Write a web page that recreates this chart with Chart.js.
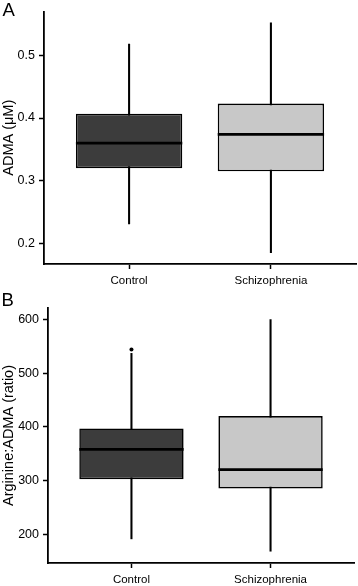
<!DOCTYPE html>
<html>
<head>
<meta charset="utf-8">
<script src="https://cdn.jsdelivr.net/npm/chart.js@4/dist/chart.umd.min.js"></script>
<style>
  body { margin: 0; background: #fff; width: 358px; height: 586px; position: relative; overflow: hidden;
         font-family: "Liberation Sans", Arial, sans-serif; }
  .panel { position: absolute; left: 0; }
  .tag { position: absolute; font-size: 18.5px; line-height: 1; color: #000; }
  canvas { display: block; }
</style>
</head>
<body>
<div class="panel" style="top:0"><canvas id="chartA" width="358" height="290"></canvas></div>
<div class="tag" style="top:1px;left:2.5px">A</div>
<div class="panel" style="top:290px"><canvas id="chartB" width="358" height="296"></canvas></div>
<div class="tag" style="top:291px;left:1.5px">B</div>

<script>
const categories = ['Control', 'Schizophrenia'];
const fills = ['#3c3c3c', '#c8c8c8'];

// panel A - ADMA (µM)
const admaMin = [0.231, 0.185];
const admaQ1 = [0.320, 0.315];
const admaMedian = [0.360, 0.374];
const admaQ3 = [0.407, 0.423];
const admaMax = [0.518, 0.552];
const admaOutliers = [[], []];
const admaTicks = [0.2, 0.3, 0.4, 0.5];

// panel B - Arginine:ADMA ratio
const ratioMin = [191, 168];
const ratioQ1 = [302, 285];
const ratioMedian = [358, 320];
const ratioQ3 = [397, 420];
const ratioMax = [537, 600];
const ratioOutliers = [[544], []];
const ratioTicks = [200, 300, 400, 500, 600];

const boxWidth = 0.75;

Chart.defaults.font.family = '"Liberation Sans", Arial, sans-serif';
Chart.defaults.color = '#000';

function makeBoxChart(id, d) {
    const half = boxWidth / 2;
    const ctx = document.getElementById(id).getContext('2d');
    return new Chart(ctx, {
        type: 'bar',
        data: {
            datasets: [
                {
                    label: 'median',
                    type: 'line',
                    data: categories.flatMap((c, i) => [
                        { x: i + 1 - half, y: d.median[i] },
                        { x: i + 1 + half, y: d.median[i] },
                        { x: i + 1 + half, y: null }
                    ]),
                    borderColor: '#000',
                    borderWidth: 2.8,
                    borderCapStyle: 'butt',
                    pointRadius: 0,
                    spanGaps: false,
                    order: 1
                },
                {
                    label: 'outliers',
                    type: 'line',
                    data: categories.flatMap((c, i) => d.outliers[i].map(v => ({ x: i + 1, y: v }))),
                    showLine: false,
                    pointRadius: 2,
                    pointBorderWidth: 0,
                    pointBackgroundColor: '#000',
                    order: 0
                },
                {
                    label: 'box',
                    data: categories.map((c, i) => ({ x: i + 1, y: [d.q1[i], d.q3[i]] })),
                    backgroundColor: fills,
                    borderColor: '#000',
                    borderWidth: 1.6,
                    borderSkipped: false,
                    barPercentage: boxWidth,
                    categoryPercentage: 1,
                    grouped: false,
                    order: 2
                },
                {
                    label: 'whisker',
                    data: categories.map((c, i) => ({ x: i + 1, y: [d.min[i], d.max[i]] })),
                    backgroundColor: '#000',
                    barThickness: 1.4,
                    grouped: false,
                    order: 3
                }
            ]
        },
        options: {
            responsive: false,
            animation: false,
            layout: { padding: d.padding },
            plugins: { legend: { display: false }, tooltip: { enabled: false } },
            scales: {
                x: {
                    type: 'linear',
                    min: 0.4,
                    max: 2.6,
                    offset: false,
                    afterBuildTicks: s => { s.ticks = categories.map((c, i) => ({ value: i + 1 })); },
                    afterFit: s => { s.height = d.xHeight; },
                    ticks: {
                        callback: v => categories[v - 1],
                        font: { size: 11.5 },
                        padding: 5,
                        maxRotation: 0
                    },
                    grid: { offset: false, drawOnChartArea: false, tickLength: 5, tickWidth: 1.5, tickColor: '#000' },
                    border: { display: true, color: '#000', width: 1.8 }
                },
                y: {
                    min: d.yMin,
                    max: d.yMax,
                    afterBuildTicks: s => { s.ticks = d.ticks.map(v => ({ value: v })); },
                    afterFit: s => { s.width = d.yWidth; },
                    ticks: {
                        callback: v => v.toFixed(d.decimals),
                        font: { size: 12.5 },
                        padding: 4
                    },
                    grid: { drawOnChartArea: false, tickLength: 5, tickWidth: 1.5, tickColor: '#000' },
                    border: { display: true, color: '#000', width: 1.8 },
                    title: {
                        display: true,
                        text: d.title,
                        font: { size: 14.5 },
                        padding: { top: 0, bottom: 0 }
                    }
                }
            }
        }
    });
}

makeBoxChart('chartA', {
    min: admaMin, q1: admaQ1, median: admaMedian, q3: admaQ3, max: admaMax,
    outliers: admaOutliers, ticks: admaTicks,
    yMin: 0.167, yMax: 0.570, decimals: 1, title: 'ADMA (\u03bcM)',
    padding: { top: 10, right: 2, left: 0, bottom: 0 }, yWidth: 44, xHeight: 26
});

makeBoxChart('chartB', {
    min: ratioMin, q1: ratioQ1, median: ratioMedian, q3: ratioQ3, max: ratioMax,
    outliers: ratioOutliers, ticks: ratioTicks,
    yMin: 146, yMax: 621.6, decimals: 0, title: 'Arginine:ADMA (ratio)',
    padding: { top: 18, right: 2, left: 0, bottom: 0 }, yWidth: 48, xHeight: 23
});
</script>
</body>
</html>
